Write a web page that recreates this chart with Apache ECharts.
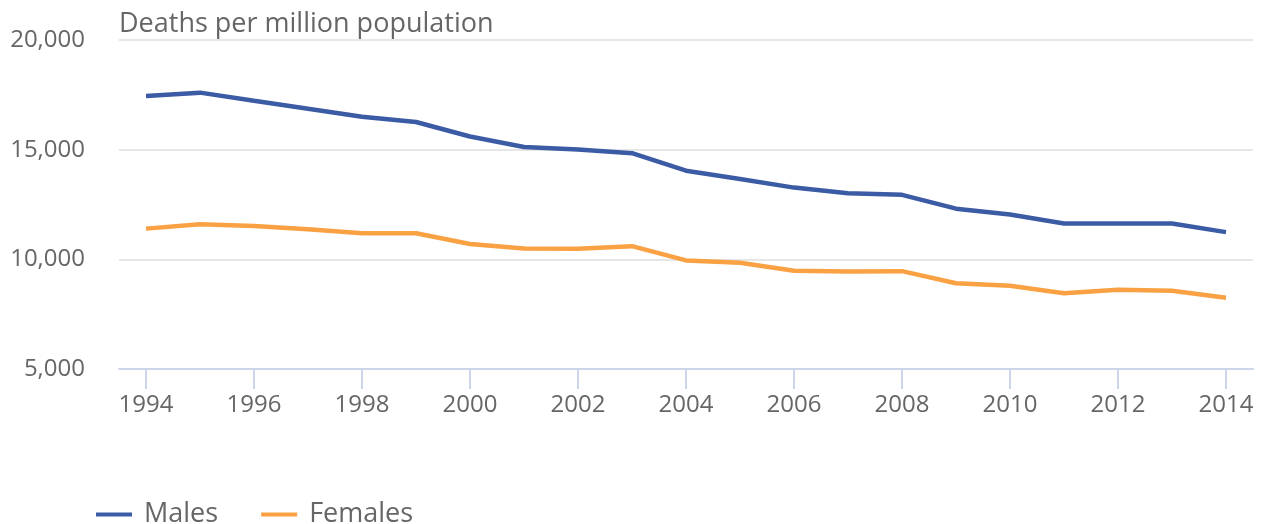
<!DOCTYPE html>
<html>
<head>
<meta charset="utf-8">
<script src="https://cdn.jsdelivr.net/npm/echarts@6/dist/echarts.min.js"></script>
<style>
  html, body { margin: 0; padding: 0; background: #ffffff; }
  #chart { width: 1263px; height: 524px; }
</style>
</head>
<body>
<div id="chart"></div>
<script>
// Deaths per million population, 1994-2014
const years = ['1994','1995','1996','1997','1998','1999','2000','2001','2002','2003','2004',
               '2005','2006','2007','2008','2009','2010','2011','2012','2013','2014'];
const males = [17450, 17600, 17230, 16870, 16500, 16260, 15600, 15120, 15010, 14840, 14040,
               13660, 13270, 13010, 12940, 12310, 12040, 11630, 11630, 11630, 11240];
const females = [11400, 11600, 11520, 11370, 11190, 11190, 10700, 10490, 10480, 10600, 9950,
                 9840, 9480, 9440, 9460, 8910, 8800, 8450, 8610, 8570, 8250];
const seriesNames = ['Males', 'Females'];
const yTitle = 'Deaths per million population';

const textColor = '#666666';
const font = '"Open Sans", "Noto Sans", sans-serif';

const chart = echarts.init(document.getElementById('chart'), null, { renderer: 'canvas' });

chart.setOption({
  animation: false,
  color: ['#3b5ba5', '#f9a143'],
  title: {
    text: yTitle,
    left: 114,
    top: 6,
    textStyle: { color: textColor, fontFamily: font, fontSize: 27, fontWeight: 'normal' }
  },
  legend: {
    data: seriesNames,
    left: 91,
    top: 496,
    icon: 'rect',
    itemWidth: 36,
    itemHeight: 4,
    itemGap: 43,
    textStyle: { color: textColor, fontFamily: font, fontSize: 27, padding: [0, 0, 0, 7] }
  },
  grid: { left: 119, right: 10, top: 40, bottom: 155, containLabel: false },
  xAxis: {
    type: 'category',
    data: years,
    boundaryGap: true,
    axisLine: { lineStyle: { color: '#ccd6eb', width: 2 } },
    axisTick: { show: true, alignWithLabel: true, interval: 1, length: 20, lineStyle: { color: '#ccd6eb', width: 2 } },
    axisLabel: { interval: 1, color: textColor, fontFamily: font, fontSize: 24, margin: 24 },
    splitLine: { show: false }
  },
  yAxis: {
    type: 'value',
    min: 5000,
    max: 20000,
    interval: 5000,
    axisLine: { show: false },
    axisTick: { show: false },
    axisLabel: {
      color: textColor, fontFamily: font, fontSize: 24, margin: 34,
      formatter: v => v.toLocaleString('en-US')
    },
    splitLine: { lineStyle: { color: '#e6e6e6', width: 2 } }
  },
  series: [
    {
      name: seriesNames[0], type: 'line', data: males,
      symbol: 'none', lineStyle: { width: 4.5 }
    },
    {
      name: seriesNames[1], type: 'line', data: females,
      symbol: 'none', lineStyle: { width: 4.5 }
    }
  ]
});
</script>
</body>
</html>
